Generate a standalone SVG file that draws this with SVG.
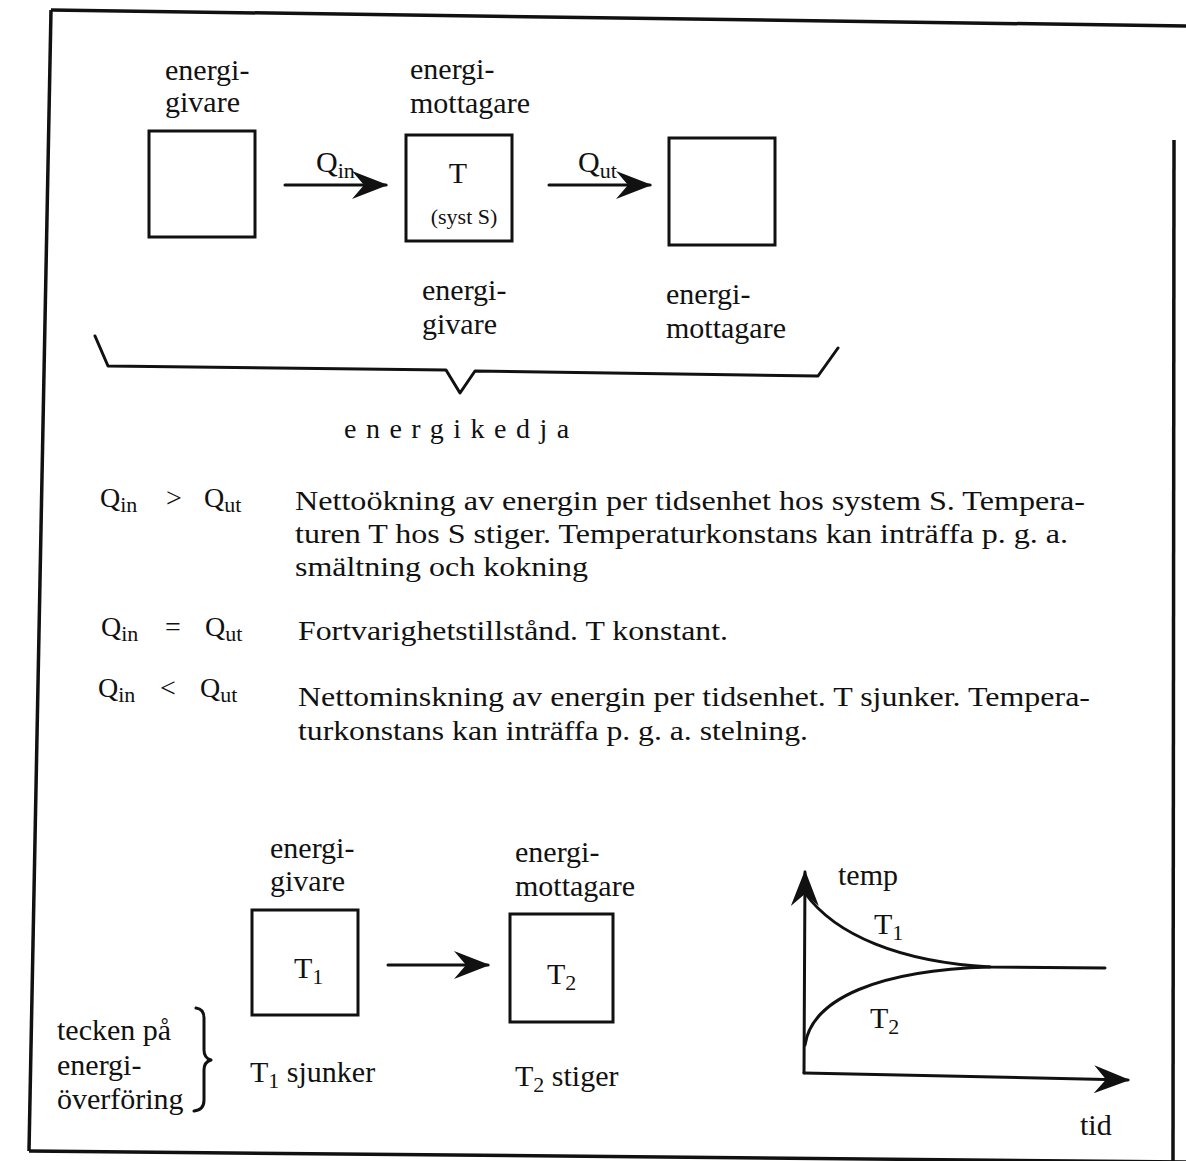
<svg xmlns="http://www.w3.org/2000/svg" width="1186" height="1161" viewBox="0 0 1186 1161">
<style>
text{font-family:"Liberation Serif","Times New Roman",serif;fill:#111}
.lbl{font-size:30px}
.txt{font-size:28px}
.sub{font-size:22px}
.box{fill:none;stroke:#111;stroke-width:3}
.ln{fill:none;stroke:#111;stroke-width:3;stroke-linecap:round;stroke-linejoin:round}
.frame{fill:none;stroke:#111;stroke-width:3.5}
</style>
<defs>
<marker id="ah" markerUnits="userSpaceOnUse" markerWidth="40" markerHeight="34" viewBox="-36 -17 40 34" refX="0" refY="0" orient="auto">
<path d="M2,0 L-34,-14 L-22,0 L-34,14 Z" fill="#111"/>
</marker>
</defs>
<rect width="1186" height="1161" fill="#fff"/>
<g id="frame">
<path class="frame" d="M51,10 L1186,26"/>
<path class="frame" d="M51,10 L29,1151"/>
<path class="frame" d="M29,1151 L1186,1162"/>
<path class="frame" d="M1174,140 L1173,1161"/>
</g>
<g id="connectors">
<path class="ln" d="M285,185 L386,185" marker-end="url(#ah)"/>
<path class="ln" d="M549,185 L650,185" marker-end="url(#ah)"/>
<path class="ln" d="M388,965 L488,965" marker-end="url(#ah)"/>
</g>
<g id="giver1">
<text class="lbl" x="165" y="80">energi-</text>
<text class="lbl" x="165" y="112">givare</text>
<rect class="box" x="149" y="131" width="106" height="106"/>
</g>
<g id="qin-label">
<text class="lbl" x="316" y="172">Q<tspan class="sub" dy="6">in</tspan></text>
</g>
<g id="system-s">
<text class="lbl" x="410" y="79">energi-</text>
<text class="lbl" x="410" y="113">mottagare</text>
<rect class="box" x="406" y="135" width="106" height="106"/>
<text class="lbl" x="458" y="183" text-anchor="middle">T</text>
<text class="sub" x="464" y="224" text-anchor="middle">(syst S)</text>
<text class="lbl" x="422" y="300">energi-</text>
<text class="lbl" x="422" y="334">givare</text>
</g>
<g id="qut-label">
<text class="lbl" x="578" y="172">Q<tspan class="sub" dy="6">ut</tspan></text>
</g>
<g id="receiver1">
<rect class="box" x="669" y="138" width="106" height="107"/>
<text class="lbl" x="666" y="304">energi-</text>
<text class="lbl" x="666" y="338">mottagare</text>
</g>
<g id="energikedja">
<path class="ln" d="M95,336 L108,366 L446,370 L460,393 L475,371 L818,376 L838,348"/>
<text class="txt" x="344" y="438" letter-spacing="9.5">energikedja</text>
</g>
<g id="relations">
<text class="txt" x="100" y="507">Q<tspan class="sub" dy="5">in</tspan><tspan dy="-5" x="166">&gt;</tspan><tspan x="204">Q</tspan><tspan class="sub" dy="5">ut</tspan></text>
<text class="txt" x="295" y="510" textLength="790" lengthAdjust="spacingAndGlyphs">Nettoökning av energin per tidsenhet hos system S. Tempera-</text>
<text class="txt" x="295" y="543" textLength="773" lengthAdjust="spacingAndGlyphs">turen T hos S stiger. Temperaturkonstans kan inträffa p. g. a.</text>
<text class="txt" x="295" y="576" textLength="293" lengthAdjust="spacingAndGlyphs">smältning och kokning</text>
<text class="txt" x="101" y="636">Q<tspan class="sub" dy="5">in</tspan><tspan dy="-5" x="165">=</tspan><tspan x="205">Q</tspan><tspan class="sub" dy="5">ut</tspan></text>
<text class="txt" x="298" y="640" textLength="430" lengthAdjust="spacingAndGlyphs">Fortvarighetstillstånd. T konstant.</text>
<text class="txt" x="98" y="697">Q<tspan class="sub" dy="5">in</tspan><tspan dy="-5" x="160">&lt;</tspan><tspan x="200">Q</tspan><tspan class="sub" dy="5">ut</tspan></text>
<text class="txt" x="298" y="706" textLength="792" lengthAdjust="spacingAndGlyphs">Nettominskning av energin per tidsenhet. T sjunker. Tempera-</text>
<text class="txt" x="298" y="740" textLength="510" lengthAdjust="spacingAndGlyphs">turkonstans kan inträffa p. g. a. stelning.</text>
</g>
<g id="giver2">
<text class="lbl" x="270" y="858">energi-</text>
<text class="lbl" x="270" y="891">givare</text>
<rect class="box" x="252" y="910" width="106" height="105"/>
<text class="lbl" x="294" y="978">T<tspan class="sub" dy="6">1</tspan></text>
<text class="lbl" x="250" y="1082">T<tspan class="sub" dy="6">1</tspan><tspan dy="-6"> sjunker</tspan></text>
</g>
<g id="receiver2">
<text class="lbl" x="515" y="862">energi-</text>
<text class="lbl" x="515" y="896">mottagare</text>
<rect class="box" x="510" y="914" width="103" height="108"/>
<text class="lbl" x="547" y="984">T<tspan class="sub" dy="6">2</tspan></text>
<text class="lbl" x="515" y="1086">T<tspan class="sub" dy="6">2</tspan><tspan dy="-6"> stiger</tspan></text>
</g>
<g id="tecken">
<text class="lbl" x="57" y="1040">tecken på</text>
<text class="lbl" x="57" y="1075">energi-</text>
<text class="lbl" x="57" y="1109">överföring</text>
<path class="ln" stroke-width="2.5" d="M196,1008 Q204,1009 204,1018 L204,1050 Q204,1058 211,1060 Q204,1062 204,1070 L204,1100 Q204,1110 194,1111"/>
</g>
<g id="graph">
<path class="ln" d="M804,1073 L805,872" marker-end="url(#ah)"/>
<path class="ln" d="M804,1073 L1128,1080" marker-end="url(#ah)"/>
<path class="ln" d="M805,893 C835,935 900,962 990,967 L1105,968"/>
<path class="ln" d="M805,1045 C812,998 880,970 990,967"/>
<text class="lbl" x="838" y="885">temp</text>
<text class="lbl" x="874" y="934">T<tspan class="sub" dy="6">1</tspan></text>
<text class="lbl" x="870" y="1028">T<tspan class="sub" dy="6">2</tspan></text>
<text class="lbl" x="1080" y="1135">tid</text>
</g>
</svg>
